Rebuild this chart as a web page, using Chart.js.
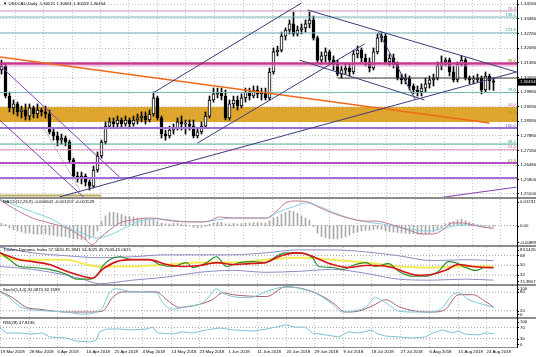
<!DOCTYPE html>
<html>
<head>
<meta charset="utf-8">
<title>USDCAD Daily</title>
<script src="https://cdn.jsdelivr.net/npm/chart.js@4.4.1/dist/chart.umd.min.js"></script>
<style>
html,body{margin:0;padding:0;background:#fff;overflow:hidden;}
#wrap{position:relative;width:536px;height:357px;background:#fff;overflow:hidden;}
#wrap canvas{position:absolute;left:0;}
.sep{position:absolute;left:0;width:536px;background:#8c8c8c;z-index:3;}
.vline{position:absolute;top:0;width:1px;background:#000;z-index:3;}
.ttl{position:absolute;left:3px;font:4.3px "Liberation Sans",Arial,sans-serif;color:#000;white-space:nowrap;z-index:4;line-height:5px;}
</style>
</head>
<body>
<div id="wrap">
<canvas id="cMain" width="536" height="197" style="top:0px"></canvas>
<canvas id="cMacd" width="536" height="46" style="top:199px"></canvas>
<canvas id="cTdi" width="536" height="37" style="top:247px"></canvas>
<canvas id="cSto" width="536" height="31" style="top:286px"></canvas>
<canvas id="cRsi" width="536" height="38" style="top:319px"></canvas>
<div class="sep" style="top:197px;height:2px"></div>
<div class="sep" style="top:245px;height:2px"></div>
<div class="sep" style="top:284px;height:2px"></div>
<div class="sep" style="top:317px;height:2px"></div>
<div class="sep" style="top:347px;height:1px;width:518px"></div>
<div class="vline" style="left:517px;height:348px"></div>
<div class="ttl" style="top:1px">▼ USDCAD,Daily&nbsp; 1.30521 1.30661 1.30059 1.30454</div>
<div class="ttl" style="top:199px">MACD(12,26,9) -0.000642 -0.001207 -0.001529</div>
<div class="ttl" style="top:247px">Traders Dynamic Index 57.5620 45.3841 54.3025 45.7043 45.0615</div>
<div class="ttl" style="top:287px">Stoch(5,3,4) 31.0870 32.3189</div>
<div class="ttl" style="top:320px">RSI(28) 47.8136</div>
</div>
<script>
// ---------------- DATA ----------------
const dateLabels = ["19 Mar 2018","28 Mar 2018","6 Apr 2018","16 Apr 2018","25 Apr 2018","4 May 2018","14 May 2018","23 May 2018","1 Jun 2018","11 Jun 2018","20 Jun 2018","29 Jun 2018","9 Jul 2018","18 Jul 2018","27 Jul 2018","6 Aug 2018","15 Aug 2018","24 Aug 2018"];
const dateLabelBars = [-0.25,7,14,21.25,28.25,35.25,42.5,49.5,56.75,64,71.25,78.25,85.5,92.5,99.75,107,114.25,121.25];

const open = [1.3104,1.3123,1.2979,1.2922,1.2941,1.2903,1.2912,1.2883,1.2922,1.2893,
 1.2912,1.2903,1.2893,1.2807,1.2788,1.2768,1.2778,1.2759,1.2673,1.2596,
 1.2586,1.2596,1.2567,1.2548,1.2625,1.2692,1.2759,1.2835,1.2855,1.2845,
 1.2864,1.2845,1.2864,1.2845,1.2864,1.2874,1.2883,1.2864,1.2893,1.2970,
 1.2874,1.2797,1.2788,1.2816,1.2826,1.2855,1.2845,1.2845,1.2835,1.2788,
 1.2807,1.2835,1.2883,1.2960,1.2989,1.2998,1.2979,1.2874,1.2941,1.2960,
 1.2931,1.2970,1.2998,1.2979,1.3008,1.2989,1.2998,1.2970,1.3094,1.3190,
 1.3199,1.3266,1.3295,1.3324,1.3276,1.3295,1.3305,1.3324,1.3343,1.3257,
 1.3151,1.3171,1.3190,1.3151,1.3132,1.3084,1.3104,1.3113,1.3094,1.3180,
 1.3199,1.3161,1.3142,1.3113,1.3190,1.3257,1.3266,1.3142,1.3161,1.3132,
 1.3065,1.3056,1.3065,1.3027,1.3008,1.2998,1.3017,1.3037,1.3056,1.3065,
 1.3123,1.3142,1.3151,1.3094,1.3056,1.3132,1.3151,1.3065,1.3056,1.3056,
 1.3065,1.3008,1.3075,1.30521];
const high = [1.3151,1.3132,1.2998,1.2960,1.2950,1.2931,1.2941,1.2941,1.2931,1.2941,
 1.2922,1.2931,1.2912,1.2826,1.2807,1.2797,1.2788,1.2768,1.2682,1.2615,
 1.2615,1.2606,1.2577,1.2644,1.2711,1.2768,1.2855,1.2874,1.2874,1.2883,
 1.2874,1.2883,1.2874,1.2883,1.2893,1.2903,1.2903,1.2912,1.2998,1.2979,
 1.2883,1.2816,1.2835,1.2845,1.2874,1.2883,1.2864,1.2864,1.2864,1.2826,
 1.2855,1.2903,1.2979,1.3017,1.3017,1.3017,1.3008,1.2960,1.2979,1.2979,
 1.2989,1.3017,1.3017,1.3027,1.3027,1.3017,1.3017,1.3113,1.3209,1.3218,
 1.3285,1.3305,1.3343,1.3381,1.3314,1.3324,1.3343,1.3381,1.3362,1.3266,
 1.3190,1.3209,1.3199,1.3171,1.3151,1.3123,1.3132,1.3132,1.3199,1.3218,
 1.3209,1.3180,1.3161,1.3209,1.3276,1.3285,1.3276,1.3180,1.3180,1.3142,
 1.3084,1.3084,1.3075,1.3037,1.3027,1.3037,1.3065,1.3075,1.3084,1.3142,
 1.3171,1.3161,1.3161,1.3123,1.3142,1.3171,1.3161,1.3075,1.3075,1.3084,
 1.3075,1.3094,1.3084,1.30661];
const low = [1.3084,1.2970,1.2903,1.2893,1.2883,1.2874,1.2864,1.2864,1.2874,1.2874,
 1.2883,1.2874,1.2797,1.2768,1.2740,1.2749,1.2740,1.2663,1.2586,1.2567,
 1.2558,1.2548,1.2529,1.2539,1.2615,1.2682,1.2749,1.2826,1.2826,1.2826,
 1.2826,1.2835,1.2826,1.2835,1.2845,1.2855,1.2845,1.2855,1.2883,1.2864,
 1.2778,1.2768,1.2778,1.2797,1.2816,1.2816,1.2797,1.2816,1.2778,1.2778,
 1.2797,1.2826,1.2874,1.2950,1.2970,1.2960,1.2864,1.2864,1.2922,1.2912,
 1.2922,1.2950,1.2960,1.2970,1.2970,1.2960,1.2960,1.2960,1.3084,1.3171,
 1.3190,1.3247,1.3276,1.3266,1.3266,1.3276,1.3285,1.3305,1.3247,1.3142,
 1.3132,1.3142,1.3132,1.3104,1.3075,1.3065,1.3084,1.3075,1.3084,1.3161,
 1.3142,1.3123,1.3094,1.3104,1.3180,1.3238,1.3132,1.3123,1.3113,1.3056,
 1.3037,1.3037,1.3008,1.2989,1.2979,1.2979,1.2998,1.3017,1.3027,1.3056,
 1.3104,1.3123,1.3075,1.3046,1.3046,1.3123,1.3056,1.3037,1.3037,1.3046,
 1.2989,1.2998,1.3008,1.30059];
const close = [1.3123,1.2979,1.2922,1.2941,1.2903,1.2912,1.2883,1.2922,1.2893,1.2912,
 1.2903,1.2893,1.2807,1.2788,1.2768,1.2778,1.2759,1.2673,1.2596,1.2586,
 1.2596,1.2567,1.2548,1.2625,1.2692,1.2759,1.2835,1.2855,1.2845,1.2864,
 1.2845,1.2864,1.2845,1.2864,1.2874,1.2883,1.2864,1.2893,1.2970,1.2874,
 1.2797,1.2788,1.2816,1.2826,1.2855,1.2845,1.2845,1.2835,1.2788,1.2807,
 1.2835,1.2883,1.2960,1.2989,1.2998,1.2979,1.2874,1.2941,1.2960,1.2931,
 1.2970,1.2998,1.2979,1.3008,1.2989,1.2998,1.2970,1.3094,1.3190,1.3199,
 1.3266,1.3295,1.3324,1.3276,1.3295,1.3305,1.3324,1.3343,1.3257,1.3151,
 1.3171,1.3190,1.3151,1.3132,1.3084,1.3104,1.3113,1.3094,1.3180,1.3199,
 1.3161,1.3142,1.3113,1.3190,1.3257,1.3266,1.3142,1.3161,1.3132,1.3065,
 1.3056,1.3065,1.3027,1.3008,1.2998,1.3017,1.3037,1.3056,1.3065,1.3123,
 1.3142,1.3151,1.3094,1.3056,1.3132,1.3151,1.3065,1.3056,1.3056,1.3065,
 1.3008,1.3075,1.3052,1.30454];

const priceTicks = [1.3418,1.3348,1.3278,1.3208,1.3138,1.3068,1.2998,1.2928,1.2858,1.2788,1.2718,1.2648,1.2580,1.2510];

// Fibonacci / horizontal levels (full width)
const levelPrices = [1.3386,1.3357,1.3281,1.3135,1.3123,1.2996,1.2926,1.2888,1.2826,1.2749,1.2722,1.2658,1.2586];
const levelTexts  = ["76.4","138.2","123.6","88.6","","78.6","50.0","61.8","100.0","38.2","23.6","61.8",""];
const zoneTop = 1.2926, zoneBottom = 1.2855;
// partial horizontal segments: price, from bar, to bar
const partialLevels = [[1.2503,-0.375,25],[1.3065,84,128.875]];

// Trend lines: [[bar, price],[bar, price]]
const navyLines = [
  [[38.25,1.2998],[75,1.3424]],
  [[49,1.2754],[90.75,1.3228]],
  [[14.5,1.2496],[128.75,1.3094]],
  [[76.5,1.3391],[128.75,1.3094]],
  [[74.5,1.3151],[105.75,1.2960]],
  [[94.25,1.3285],[103.5,1.2960]]
];
const purpleLines = [
  [[-0.5,1.3127],[29.5,1.2591]],
  [[-0.5,1.2864],[20.5,1.2496]],
  [[105.25,1.2481],[128.75,1.2543]]
];
const dottedLines = [[[10.4,1.2831],[19.6,1.2529]]];
const orangeLine = [[-0.5,1.3166],[122,1.2850]];

// MACD
const macdHist = [0.0010,0.0005,-0.0010,-0.0020,-0.0025,-0.0030,-0.0035,-0.0035,-0.0038,-0.0040,
 -0.0040,-0.0040,-0.0042,-0.0045,-0.0048,-0.0050,-0.0050,-0.0055,-0.0060,-0.0062,
 -0.0065,-0.0065,-0.0062,-0.0050,-0.0025,0.0020,0.0045,0.0060,0.0062,0.0058,
 0.0052,0.0045,0.0042,0.0040,0.0036,0.0035,0.0032,0.0028,0.0030,0.0020,
 0.0012,0.0008,0.0008,0.0010,0.0010,0.0008,0.0004,-0.0002,-0.0008,-0.0010,
 -0.0008,-0.0004,0.0006,0.0012,0.0015,0.0015,0.0008,0.0008,0.0010,0.0008,
 0.0010,0.0012,0.0012,0.0014,0.0014,0.0013,0.0012,0.0022,0.0035,0.0040,
 0.0052,0.0062,0.0068,0.0065,0.0058,0.0045,0.0035,0.0025,-0.0005,-0.0035,
 -0.0050,-0.0055,-0.0060,-0.0062,-0.0062,-0.0058,-0.0052,-0.0045,-0.0035,-0.0030,
 -0.0025,-0.0022,-0.0022,-0.0018,-0.0015,-0.0018,-0.0025,-0.0028,-0.0030,-0.0032,
 -0.0034,-0.0036,-0.0038,-0.0038,-0.0040,-0.0040,-0.0040,-0.0036,-0.0030,-0.0020,
 -0.0010,0.0008,0.0015,0.0018,0.0025,0.0030,0.0022,0.0015,0.0010,0.0005,
 0.0002,-0.0002,-0.0004,-0.0006];
const macdMain = [[-0.5,0.0120],[3.75,0.0072],[7.75,0.0035],[12,0.0012],[16.25,-0.0011],[20.25,-0.0053],[22.75,-0.0088],[24.5,-0.0058],[27,-0.0021],[29.5,0.0012],[32.75,0.0026],[37,0.0035],[39.5,0.0031],[42.75,0.0021],[46.25,0.0017],[49.5,0.0017],[52,0.0021],[54.5,0.0040],[57.75,0.0035],[62,0.0035],[66.25,0.0035],[68.5,0.0063],[71,0.0105],[73.5,0.0114],[76.75,0.0109],[79.25,0.0086],[82.75,0.0058],[86.75,0.0035],[91,0.0021],[93.5,0.0021],[97.75,0.0003],[101.75,-0.0021],[105.25,-0.0039],[107.75,-0.0039],[110.25,-0.0021],[112.75,0.0012],[115.25,0.0012],[117.75,0.0003],[120.25,-0.0007],[123,-0.0012]];
const macdSignal = [[-0.5,0.0123],[2,0.0105],[7.75,0.0063],[12,0.0035],[16.25,-0.0007],[20.25,-0.0035],[23.75,-0.0058],[27,-0.0044],[31.25,-0.0007],[34.5,0.0021],[38.75,0.0031],[44.5,0.0021],[49.5,0.0017],[53.75,0.0026],[57.75,0.0035],[66.25,0.0035],[69.25,0.0063],[72.75,0.0086],[76,0.0105],[78.5,0.0095],[82.75,0.0063],[86.75,0.0035],[91,0.0017],[95.25,0.0007],[99.25,-0.0007],[103.5,-0.0021],[106.75,-0.0025],[111,-0.0011],[115.25,0.0003],[117.75,0.0003],[123,-0.0015]];
const macdAxis = [0.012317,0,-0.008990];
const macdAxisText = ["0.012317","0.00","-0.008990"];

// Traders Dynamic Index
const tdiPrice = [[-0.5,74.6],[2,60.2],[4.5,47.7],[7.75,45.9],[12,42.3],[16.25,33.3],[18.75,24.3],[22,24.3],[23.75,29.7],[25.25,47.7],[27,60.2],[29.5,65.6],[32.75,60.2],[37,60.2],[39.5,51.2],[42.75,47.7],[46.25,54.8],[47.75,45.9],[51.25,54.8],[53.75,65.6],[56.25,47.7],[59.5,54.8],[62.75,56.6],[66,54.8],[68.5,65.6],[71,72.8],[74.25,72.8],[77.75,63.8],[79.25,47.7],[82.75,45.9],[85.25,42.3],[88.5,51.2],[91,54.8],[93.5,47.7],[96.75,53.0],[99.25,38.7],[102.75,29.7],[106,29.7],[109.25,38.7],[111.75,56.6],[113.5,54.8],[116,45.9],[118.5,40.5],[121,45.9],[123,45.7]];
const tdiSignal = [[-0.5,72.8],[4.5,60.2],[7.75,56.6],[12,51.2],[16.25,38.7],[20.25,29.7],[22.75,26.1],[25.25,42.3],[28.75,56.6],[32.75,60.2],[37,60.2],[41.25,51.2],[45.25,47.7],[49.5,49.4],[53.75,54.8],[57.75,51.2],[62,53.0],[66,54.8],[69.25,65.6],[73.5,72.8],[76,71.0],[78.5,63.8],[82.75,51.2],[86.75,45.9],[91,49.4],[93.5,49.4],[97.75,45.9],[101,36.9],[104.25,31.5],[107.75,33.3],[111,40.5],[114.25,51.2],[117.75,47.7],[121,45.9],[123,45.4]];
const tdiBase = [[-0.5,69.2],[3.25,60.2],[16.25,60.2],[20.25,53.0],[24.5,47.7],[32.75,47.7],[41.25,51.2],[49.5,54.8],[57.75,54.8],[66,60.2],[74.25,63.8],[82.75,60.2],[91,54.8],[99.25,47.7],[107.75,45.9],[116,47.7],[123,47.7]];
const tdiUpper = [[-0.5,83.5],[7.75,72.8],[16.25,67.4],[24.5,63.8],[32.75,65.6],[41,69.2],[49.5,69.2],[57.75,69.2],[66,72.8],[74.25,78.2],[82.75,78.2],[91,74.6],[99.25,67.4],[107.75,58.4],[116,60.2],[123,58.4]];
const tdiLower = [[-0.5,47.7],[7.75,42.3],[16.25,31.5],[20.25,24.3],[24.5,16.0],[32.75,22.5],[41,27.9],[49.5,36.9],[57.75,40.5],[66,36.9],[74.25,38.7],[82.75,42.3],[91,35.1],[99.25,24.3],[107.75,22.5],[116,24.3],[123,22.5]];
const tdiAxis = [83.5426,68,50,32,15.3807];
const tdiAxisText = ["83.5426","68","50","32","15.3807"];

// Stochastic
const stochMain = [[-0.5,81],[2,62.5],[4.5,34],[7,25],[12,19],[16.25,16],[20.25,9],[23.75,16],[25.25,31],[27,78],[28.75,91],[32.75,81],[38.75,78],[40.25,47],[42.75,25],[46.25,34],[49.5,41],[51.25,56],[53.75,91],[55.25,78],[57.75,66],[62,62.5],[66,81],[69.25,94],[71.75,97],[76,87.5],[79.25,72],[82.75,41],[85.25,16],[87.75,19],[91,31],[93.5,62.5],[96,47],[99.25,19],[103.5,16],[107.75,16],[110.25,31],[112.75,72],[114.25,78],[116.75,56],[120.25,41],[123,31]];
const stochSignal = [[-0.5,84],[2.75,62.5],[6.25,31],[9.5,25],[16.25,16],[22,16],[25.25,19],[27.75,62.5],[30.25,81],[38.75,81],[41.25,56],[44.5,31],[49.5,41],[52.75,56],[55.25,78],[57.75,72],[66.25,66],[71,97],[74.25,94],[78.5,78],[82.75,47],[86,16],[89.25,19],[93.5,41],[96,56],[99.25,34],[103.5,19],[107.75,16],[111,25],[114.25,72],[117.75,72],[121,50],[123,32]];
const stochAxis = [100,80,20,0];
const stochAxisText = ["100","80","20","0"];

// RSI
const rsiLine = [[-0.5,71],[1.25,50],[4.5,50],[7,46],[10.25,50],[12,36],[16.25,32],[18.75,21],[22,18],[23.75,25],[24.5,54],[26.25,64],[29.5,64],[32.75,61],[36.25,64],[37.75,71],[39,50],[42.75,46],[45.25,54],[47.75,50],[51.25,61],[54.5,68],[57.75,61],[62.75,57],[66.25,64],[68.5,71],[71,79],[73.5,71],[76,71],[77.75,50],[81,43],[84.25,36],[86.75,54],[89.25,50],[92.75,61],[93.5,50],[96,39],[99.25,36],[102.75,32],[106,36],[107.75,50],[110.25,61],[112.75,50],[114.25,57],[116,46],[119.25,43],[121,50],[123,48]];
const rsiAxis = [100,70,30,0];
const rsiAxisText = ["100","70","30","0"];

// ---------------- STYLE / LAYOUT ----------------
const X_MIN = -0.375, X_MAX = 128.875;
const P_MIN = 1.24956, P_MAX = 1.34386;
const FONT = '"Liberation Sans", Arial, sans-serif';
const levelColors = ["#c58fc0","#6fb4b4","#78b0b8","#c8388f","#e79bd0","#72b8b8","#e58fbf","#a89a2a","#9a70d2","#4fa88e","#e590c4","#b450c8","#a070d8"];
const levelWidths = [1,1,1,2.5,1,1,0,0,2,1,1,2,2];
const levelTextColors = ["#c0609a","#3a9a9a","#3a9a9a","#a09020","","#3a9a9a","#d0609a","#8a9a20","#7a60b0","#3a9a9a","#d0609a","#8a9a20",""];
const partialColors = ["#bfae62","#3a3a3a"];
const partialWidths = [2,1];
const bars = close.map((_, i) => i);
const pts = a => a.map(p => ({x: p[0], y: p[1]}));
const hline = v => [{x: X_MIN, y: v}, {x: X_MAX, y: v}];

Chart.defaults.font.family = FONT;
Chart.defaults.font.size = 4.3;
Chart.defaults.color = '#000';

function line(data, color, width, extra) {
  return Object.assign({type: 'line', data, borderColor: color, borderWidth: width, pointRadius: 0,
    pointHoverRadius: 0, fill: false, tension: 0, order: 1}, extra || {});
}

function xScale(showLabels) {
  return {
    type: 'linear', min: X_MIN, max: X_MAX, offset: false,
    afterBuildTicks: s => { s.ticks = dateLabelBars.map(v => ({value: v})); },
    afterFit: s => { s.height = showLabels ? 10 : 0; s.paddingLeft = 0; s.paddingRight = 0; },
    ticks: {display: showLabels, autoSkip: false, maxRotation: 0, minRotation: 0, align: 'start',
      padding: 2.5, font: {size: 4.3, family: FONT}, color: '#000', callback: (v, i) => dateLabels[i]},
    grid: {color: '#c6c6c6', lineWidth: 1, drawTicks: false},
    border: {display: false, dash: [1, 2]}
  };
}

function yScale(min, max, extra) {
  return Object.assign({
    position: 'right', min, max,
    afterFit: s => { s.width = 19; s.paddingTop = 0; s.paddingBottom = 0; },
    ticks: {display: false}, grid: {display: false}, border: {display: false}
  }, extra || {});
}

const edgeLabels = {
  id: 'edgeLabels',
  afterDraw(chart, args, opts) {
    if (!opts || !opts.values) return;
    const {ctx, chartArea} = chart, y = chart.scales.y;
    ctx.save();
    ctx.font = '4.3px ' + FONT; ctx.fillStyle = '#000'; ctx.textBaseline = 'middle'; ctx.textAlign = 'left';
    opts.values.forEach((v, k) => {
      let py = y.getPixelForValue(v);
      py = Math.min(Math.max(py, chartArea.top + 2.6), chartArea.bottom - 2.6);
      ctx.fillRect(chartArea.right, Math.round(py), 2, 1);
      ctx.fillText(opts.texts[k], chartArea.right + 3, py);
    });
    ctx.restore();
  }
};

const fibLabels = {
  id: 'fibLabels',
  afterDatasetsDraw(chart, args, opts) {
    if (!opts || !opts.values) return;
    const {ctx, chartArea} = chart, y = chart.scales.y;
    ctx.save();
    ctx.font = '4.3px ' + FONT; ctx.textBaseline = 'bottom'; ctx.textAlign = 'right';
    opts.values.forEach((v, k) => {
      if (!opts.texts[k]) return;
      ctx.fillStyle = opts.colors[k];
      ctx.fillText(opts.texts[k], chartArea.right - 1, y.getPixelForValue(v) - 0.5);
    });
    ctx.restore();
  }
};

const priceTag = {
  id: 'priceTag',
  afterDraw(chart, args, opts) {
    if (!opts || opts.value == null) return;
    const {ctx, chartArea} = chart, y = chart.scales.y;
    const py = y.getPixelForValue(opts.value);
    ctx.save();
    ctx.fillStyle = '#000';
    ctx.fillRect(chartArea.right, py - 3.5, 19, 7);
    ctx.fillStyle = '#fff'; ctx.font = '4.3px ' + FONT; ctx.textBaseline = 'middle'; ctx.textAlign = 'left';
    ctx.fillText(opts.value.toFixed(5), chartArea.right + 3, py);
    ctx.restore();
  }
};

function baseOptions(scales, plugins) {
  return {
    responsive: false, animation: false, devicePixelRatio: 1, events: [],
    layout: {padding: 0},
    plugins: Object.assign({legend: {display: false}, tooltip: {enabled: false}}, plugins || {}),
    scales
  };
}

// ---------------- MAIN PRICE PANEL ----------------
const mainDatasets = [];
mainDatasets.push(line(hline(zoneTop), 'rgba(0,0,0,0)', 0, {order: 40}));
mainDatasets.push(line(hline(zoneBottom), 'rgba(0,0,0,0)', 0, {order: 39, fill: '-1', backgroundColor: 'rgba(219,158,28,0.92)'}));
mainDatasets.push({type: 'bar', data: bars.map(i => ({x: i, y: [low[i], high[i]]})), barThickness: 1,
  backgroundColor: '#000', grouped: false, order: 21});
mainDatasets.push({type: 'bar', data: bars.map(i => ({x: i, y: [open[i], close[i]]})), barThickness: 3,
  backgroundColor: bars.map(i => close[i] >= open[i] ? '#fff' : '#000'), borderColor: '#000', borderWidth: 1,
  borderSkipped: false, minBarLength: 1, grouped: false, order: 20});
levelPrices.forEach((v, k) => {
  if (levelWidths[k] > 0) mainDatasets.push(line(hline(v), levelColors[k], levelWidths[k], {order: 5}));
});
partialLevels.forEach((p, k) => mainDatasets.push(line([{x: p[1], y: p[0]}, {x: p[2], y: p[0]}], partialColors[k], partialWidths[k], {order: 5})));
mainDatasets.push(line(pts(orangeLine), '#ee6a1a', 1.5, {order: 3}));
navyLines.forEach(l => mainDatasets.push(line(pts(l), '#3b3b7c', 1, {order: 2})));
purpleLines.forEach(l => mainDatasets.push(line(pts(l), '#8a3db4', 1, {order: 2})));
dottedLines.forEach(l => mainDatasets.push(line(pts(l), '#8c8c8c', 1, {order: 2, borderDash: [1, 1]})));

new Chart(document.getElementById('cMain'), {
  type: 'bar',
  data: {datasets: mainDatasets},
  options: baseOptions({
    x: xScale(false),
    y: yScale(P_MIN, P_MAX, {
      afterBuildTicks: s => { s.ticks = priceTicks.map(v => ({value: v})); },
      ticks: {display: true, font: {size: 4.3, family: FONT}, color: '#000', padding: 1.5, callback: v => v.toFixed(5)},
      grid: {display: true, color: '#c6c6c6', drawTicks: true, tickLength: 2, tickColor: '#000', tickBorderDash: [], tickWidth: 1},
      border: {display: false, dash: [1, 2]}
    })
  }, {
    fibLabels: {values: levelPrices, texts: levelTexts, colors: levelTextColors},
    priceTag: {value: close[close.length - 1]}
  }),
  plugins: [fibLabels, priceTag]
});

// ---------------- MACD ----------------
new Chart(document.getElementById('cMacd'), {
  type: 'bar',
  data: {datasets: [
    line(hline(0), '#a0a0a0', 1, {borderDash: [1, 2], order: 9}),
    {type: 'bar', data: bars.map(i => ({x: i, y: macdHist[i]})), barThickness: 1, backgroundColor: '#a9a9a9', grouped: false, order: 8},
    line(pts(macdSignal), '#86d3e6', 1, {tension: 0.35, cubicInterpolationMode: 'monotone', order: 2}),
    line(pts(macdMain), '#c2788f', 1, {tension: 0.35, cubicInterpolationMode: 'monotone', order: 1})
  ]},
  options: baseOptions({x: xScale(false), y: yScale(-0.008990, 0.012317)},
    {edgeLabels: {values: macdAxis, texts: macdAxisText}}),
  plugins: [edgeLabels]
});

// ---------------- TDI ----------------
new Chart(document.getElementById('cTdi'), {
  type: 'line',
  data: {datasets: [
    line(hline(68), '#a0a0a0', 1, {borderDash: [1, 2], order: 9}),
    line(hline(50), '#a0a0a0', 1, {borderDash: [1, 2], order: 9}),
    line(hline(32), '#a0a0a0', 1, {borderDash: [1, 2], order: 9}),
    line(pts(tdiBase), 'rgba(242,232,70,0.9)', 2, {cubicInterpolationMode: 'monotone', order: 6}),
    line(pts(tdiUpper), '#8c8cc4', 1, {cubicInterpolationMode: 'monotone', order: 5}),
    line(pts(tdiLower), '#8c8cc4', 1, {cubicInterpolationMode: 'monotone', order: 5}),
    line(pts(tdiPrice), '#2b8a2b', 1.1, {cubicInterpolationMode: 'monotone', order: 3}),
    line(pts(tdiSignal), '#d91414', 1.6, {cubicInterpolationMode: 'monotone', order: 2})
  ]},
  options: baseOptions({x: xScale(false), y: yScale(15.3807, 83.5426)},
    {edgeLabels: {values: tdiAxis, texts: tdiAxisText}}),
  plugins: [edgeLabels]
});

// ---------------- STOCHASTIC ----------------
new Chart(document.getElementById('cSto'), {
  type: 'line',
  data: {datasets: [
    line(hline(80), '#a0a0a0', 1, {borderDash: [1, 2], order: 9}),
    line(hline(20), '#a0a0a0', 1, {borderDash: [1, 2], order: 9}),
    line(pts(stochSignal), '#a8606c', 1, {cubicInterpolationMode: 'monotone', order: 2}),
    line(pts(stochMain), '#7cc8d8', 1, {cubicInterpolationMode: 'monotone', order: 1})
  ]},
  options: baseOptions({x: xScale(false), y: yScale(0, 100)},
    {edgeLabels: {values: stochAxis, texts: stochAxisText}}),
  plugins: [edgeLabels]
});

// ---------------- RSI ----------------
new Chart(document.getElementById('cRsi'), {
  type: 'line',
  data: {datasets: [
    line(hline(70), '#a0a0a0', 1, {borderDash: [1, 2], order: 9}),
    line(hline(30), '#a0a0a0', 1, {borderDash: [1, 2], order: 9}),
    line(pts(rsiLine), '#7fbfd6', 1, {order: 1})
  ]},
  options: baseOptions({x: xScale(true), y: yScale(0, 100)},
    {edgeLabels: {values: rsiAxis, texts: rsiAxisText}}),
  plugins: [edgeLabels]
});
</script>
</body>
</html>
